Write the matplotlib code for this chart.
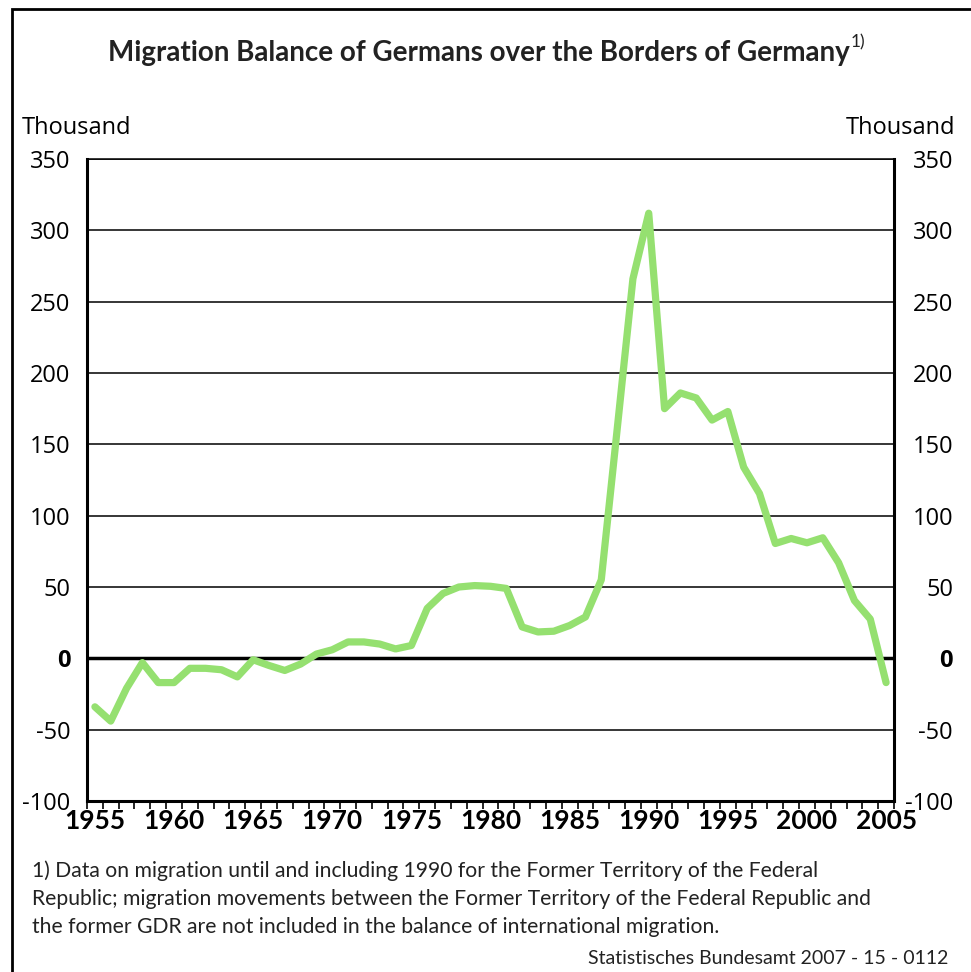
import matplotlib
matplotlib.use("Agg")
import matplotlib.pyplot as plt
from matplotlib.patches import Rectangle
from matplotlib.ticker import FixedLocator, NullFormatter

years = list(range(1955, 2006))
balance = [-34, -44, -21, -3, -17, -17, -7, -7, -8, -13,
           -1, -5, -8.5, -4, 3, 6, 11.5, 11.5, 10, 6.6,
           9, 35, 45.5, 50, 51, 50.5, 49, 22, 18.5, 19,
           23, 29, 55, 160, 266, 312, 175, 186, 182.5, 167,
           173, 134, 115.5, 80.5, 84, 81, 84.5, 67, 40.5, 27.5,
           -17]
yticks = [-100, -50, 0, 50, 100, 150, 200, 250, 300, 350]
xlabels = ["1955", "1960", "1965", "1970", "1975", "1980", "1985",
           "1990", "1995", "2000", "2005"]

title = "Migration Balance of Germans over the Borders of Germany"
footnote = ("1) Data on migration until and including 1990 for the Former Territory of the Federal\n"
            "Republic; migration movements between the Former Territory of the Federal Republic and\n"
            "the former GDR are not included in the balance of international migration.")
source = "Statistisches Bundesamt 2007 - 15 - 0112"

W, H = 971, 972
fig = plt.figure(figsize=(W / 100, H / 100), dpi=100)
fnt = ["Open Sans", "DejaVu Sans"]
nar = ["Lato", "Open Sans", "DejaVu Sans"]

def fx(px):
    return px / W

def fy(py):
    return 1 - py / H

ax = fig.add_axes([fx(87), fy(801), fx(894) - fx(87), fy(159) - fy(801)])
xs = list(range(len(years)))
ax.plot(xs, balance, color="#95e070", lw=5.2, solid_joinstyle="round",
        solid_capstyle="round", zorder=3)
ax.set_xlim(-0.5, len(years) - 0.5)
ax.set_ylim(-100, 350)

for v in yticks:
    if v == 0:
        ax.axhline(v, color="black", lw=2.5, zorder=2)
    elif v not in (-100,):
        ax.axhline(v, color="black", lw=1.1, zorder=2)

for s in ["left", "right", "bottom"]:
    ax.spines[s].set_linewidth(2.2)
ax.spines["top"].set_linewidth(1.1)

ax.set_yticks(yticks)
ax.tick_params(axis="y", length=0, labelsize=17, pad=12)
ax.set_yticklabels([str(v) for v in yticks], family=fnt)
for lbl in ax.get_yticklabels():
    if lbl.get_text() == "0":
        lbl.set_fontweight("bold")

ax2 = ax.twinx()
ax2.set_ylim(-100, 350)
ax2.set_yticks(yticks)
ax2.tick_params(axis="y", length=0, labelsize=17, pad=42.5)
ax2.set_yticklabels([str(v) for v in yticks], family=fnt, ha="right")
for lbl in ax2.get_yticklabels():
    if lbl.get_text() == "0":
        lbl.set_fontweight("bold")
for s in ax2.spines.values():
    s.set_visible(False)

ax.set_xticks(list(range(0, len(years), 5)))
ax.set_xticklabels(xlabels, family=nar, fontsize=19, fontweight="bold")
ax.xaxis.set_minor_locator(FixedLocator([i - 0.5 for i in range(len(years) + 1)]))
ax.xaxis.set_minor_formatter(NullFormatter())
ax.tick_params(axis="x", which="major", length=0, pad=6)
ax.tick_params(axis="x", which="minor", length=6, width=1.2, direction="out")

fig.text(fx(850), fy(53), title, ha="right", va="center", fontsize=20,
         fontweight="bold", family=nar, color="#222222")
fig.text(fx(851), fy(42), "1)", ha="left", va="center", fontsize=12.5,
         family=nar, color="#222222")
fig.text(fx(22), fy(128), "Thousand", ha="left", va="center", fontsize=17, family=fnt)
fig.text(fx(955), fy(128), "Thousand", ha="right", va="center", fontsize=17, family=fnt)

fig.text(fx(32), fy(899), footnote, ha="left", va="center", fontsize=15.2,
         family=nar, linespacing=1.5, color="#222222")
fig.text(fx(948), fy(958), source, ha="right", va="center", fontsize=14,
         family=nar, color="#222222")

fig.add_artist(Rectangle((fx(12), -0.05), 1.2, fy(9) + 0.05, transform=fig.transFigure,
                         fill=False, lw=2, edgecolor="black"))

fig.savefig("out.png", dpi=100)
